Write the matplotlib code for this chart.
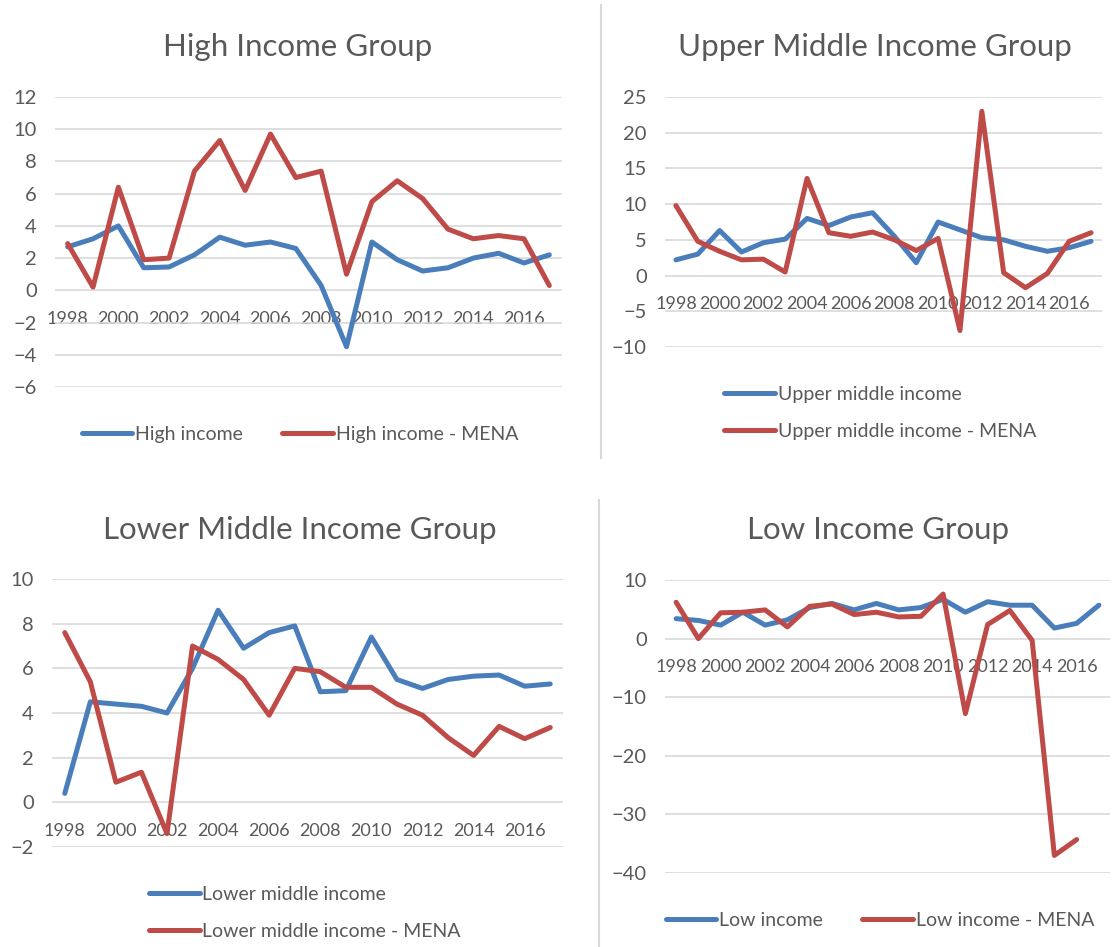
#!/usr/bin/env python
"""
Four panels: growth by income group vs. the MENA part of each group
"""
import matplotlib
matplotlib.use("Agg")
import matplotlib.pyplot as plt
from matplotlib.lines import Line2D

# years on the category axis
YEARS = list(range(1998, 2018))
YEAR_LABELS = [str(y) if y % 2 == 0 else "" for y in YEARS]

high = [2.7, 3.2, 4.0, 1.4, 1.45, 2.2, 3.3, 2.8, 3.0, 2.6,
        0.3, -3.5, 3.0, 1.9, 1.2, 1.4, 2.0, 2.3, 1.7, 2.2]
high_mena = [2.9, 0.2, 6.4, 1.9, 2.0, 7.4, 9.3, 6.2, 9.7, 7.0,
             7.4, 1.0, 5.5, 6.8, 5.7, 3.8, 3.2, 3.4, 3.2, 0.3]

upper = [2.2, 3.0, 6.3, 3.3, 4.6, 5.1, 8.0, 7.0, 8.2, 8.8,
         5.5, 1.8, 7.5, 6.4, 5.3, 5.0, 4.1, 3.4, 3.9, 4.8]
upper_mena = [9.8, 4.8, 3.4, 2.2, 2.3, 0.5, 13.6, 6.0, 5.5, 6.1,
              5.0, 3.5, 5.2, -7.7, 23.0, 0.4, -1.7, 0.3, 4.8, 6.0]

lower = [0.4, 4.5, 4.4, 4.3, 4.0, 6.0, 8.6, 6.9, 7.6, 7.9,
         4.95, 5.0, 7.4, 5.5, 5.1, 5.5, 5.65, 5.7, 5.2, 5.3]
lower_mena = [7.6, 5.4, 0.9, 1.35, -1.4, 7.0, 6.4, 5.5, 3.9, 6.0,
              5.85, 5.15, 5.15, 4.4, 3.9, 2.9, 2.1, 3.4, 2.85, 3.35]

low = [3.4, 3.1, 2.3, 4.5, 2.3, 3.2, 5.3, 6.0, 4.9, 6.0,
       4.9, 5.3, 6.7, 4.5, 6.3, 5.7, 5.7, 1.8, 2.6, 5.7]
low_mena = [6.2, 0.0, 4.4, 4.5, 4.9, 2.0, 5.5, 5.9, 4.1, 4.5,
            3.7, 3.8, 7.6, -12.8, 2.4, 4.8, -0.3, -37.0, -34.3]

BLUE = "#4A7EBB"
RED = "#BE4B48"
TEXT = "#595959"
GRID = "#D9D9D9"

plt.rcParams['font.family'] = ['Lato', 'DejaVu Sans']

W, H = 1116, 947
fig = plt.figure(figsize=(W / 100, H / 100), dpi=100)


def px_axes(left, right, top, bottom):
    # axes placed by pixel edges (top-left origin)
    return fig.add_axes([left / W, 1 - bottom / H, (right - left) / W, (bottom - top) / H])


def panel(ax, blue, red, names, ylim, step, title, tpos, lpos, ncol):
    ax.plot(range(len(blue)), blue, color=BLUE, lw=3.6, solid_capstyle='round')
    ax.plot(range(len(red)), red, color=RED, lw=3.6, solid_capstyle='round')
    ax.set_xlim(-0.5, len(YEARS) - 0.5)
    ax.set_ylim(*ylim)
    ax.set_yticks(range(ylim[0], ylim[1] + 1, step))
    ax.set_xticks(range(len(YEARS)))
    ax.set_xticklabels(YEAR_LABELS)
    ax.grid(axis='y', color=GRID, lw=1.2)
    ax.set_axisbelow(True)
    for s in ['top', 'right', 'left']:
        ax.spines[s].set_visible(False)
    ax.spines['bottom'].set_position(('data', 0))
    ax.spines['bottom'].set_visible(False)
    ax.tick_params(axis='x', length=0, pad=15, labelsize=13, colors=TEXT)
    ax.tick_params(axis='y', length=0, pad=13, labelsize=14.5, colors=TEXT)
    fig.text(tpos[0] / W, 1 - tpos[1] / H, title, ha='center', va='center',
             fontsize=22.5, color=TEXT)
    handles = [Line2D([], [], color=BLUE, lw=3.6, solid_capstyle='round'),
               Line2D([], [], color=RED, lw=3.6, solid_capstyle='round')]
    leg = ax.legend(handles, names, loc='center', ncol=ncol, frameon=False,
                    bbox_to_anchor=(lpos[0] / W, 1 - lpos[1] / H),
                    bbox_transform=fig.transFigure, fontsize=14,
                    handlelength=2.6, handletextpad=0.15, columnspacing=2.0,
                    labelspacing=1.05)
    for t in leg.get_texts():
        t.set_color(TEXT)


ax1 = px_axes(55, 562, 97, 387)
panel(ax1, high, high_mena, ["High income", "High income - MENA"],
      (-6, 12), 2, "High Income Group", (298, 47), (300, 434), 2)

ax2 = px_axes(665, 1102, 97, 347)
panel(ax2, upper, upper_mena, ["Upper middle income", "Upper middle income - MENA"],
      (-10, 25), 5, "Upper Middle Income Group", (875, 47), (880, 413), 1)

ax3 = px_axes(52, 563, 579, 847)
panel(ax3, lower, lower_mena, ["Lower middle income", "Lower middle income - MENA"],
      (-2, 10), 2, "Lower Middle Income Group", (300, 530), (305, 913), 1)

ax4 = px_axes(665, 1110, 580, 873)
panel(ax4, low, low_mena, ["Low income", "Low income - MENA"],
      (-40, 10), 10, "Low Income Group", (878, 530), (880, 920), 2)

# thin separators between the panels
fig.add_artist(Line2D([601 / W, 601 / W], [1 - 5 / H, 1 - 458 / H], color=GRID, lw=1.5))
fig.add_artist(Line2D([599 / W, 599 / W], [1 - 500 / H, 0], color=GRID, lw=1.5))

fig.savefig("out.png", dpi=100)
